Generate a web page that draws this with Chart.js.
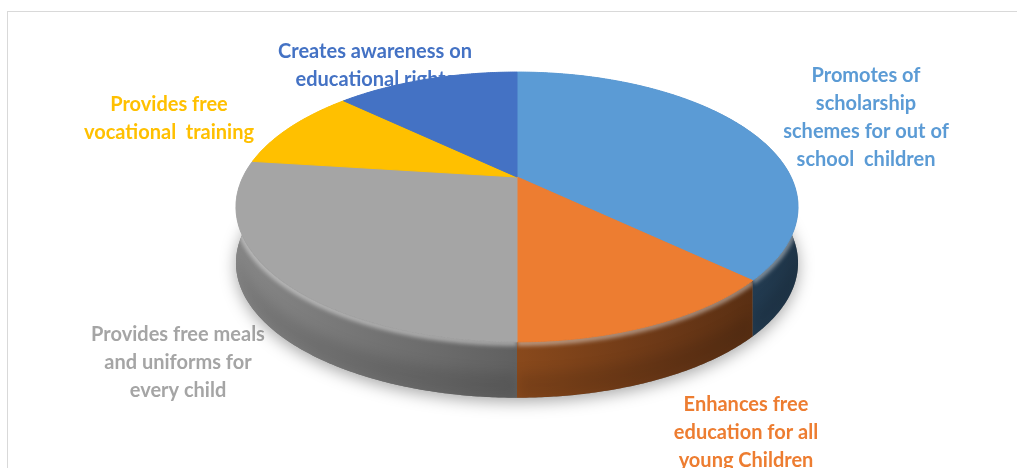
<!DOCTYPE html>
<html>
<head>
<meta charset="utf-8">
<script src="https://cdn.jsdelivr.net/npm/chart.js@4.4.1/dist/chart.umd.min.js"></script>
<style>
  html, body { margin: 0; padding: 0; background: #ffffff; overflow: hidden; }
  #wrap { position: relative; width: 1017px; height: 468px; }
</style>
</head>
<body>
<div id="wrap"><canvas id="c" width="1017" height="468"></canvas></div>
<script>
// Survey answers: what the programme does for school children
const categories = [
  'Promotes of scholarship schemes for out of school children',
  'Enhances free education for all young Children',
  'Provides free meals and uniforms for every child',
  'Provides free vocational training',
  'Creates awareness on educational rights'
];
const shares = [37, 13, 27, 10, 13];
const sliceColors = ['#5B9BD5', '#ED7D31', '#A5A5A5', '#FFC000', '#4472C4'];
const labelLines = [
  ['Promotes of', 'scholarship', 'schemes for out of', 'school  children'],
  ['Enhances free', 'education for all', 'young Children'],
  ['Provides free meals', 'and uniforms for', 'every child'],
  ['Provides free', 'vocational  training'],
  ['Creates awareness on', 'educational rights']
];

// Tilted, extruded disc, sized as multiples of the radius Chart.js lays out
const VIEW = { rx: 1.171, ry: 0.548, lift: 0.2436, depth: 0.239, persp: 0.222 };
// Data label placement (centre of first line) and styling
const LABEL_POS = [
  { x: 866, y: 76 }, { x: 746, y: 405 }, { x: 178, y: 335 }, { x: 169, y: 105 }, { x: 375, y: 52 }
];
const LABEL_SIZE = 20;
const LINE_H = 27.7;

function hexToRgb(h) {
  const n = parseInt(h.slice(1), 16);
  return [(n >> 16) & 255, (n >> 8) & 255, n & 255];
}
function shade(rgb, f) {
  const c = rgb.map(v => Math.max(0, Math.min(255, Math.round(v * f))));
  return `rgb(${c[0]},${c[1]},${c[2]})`;
}
// wall brightness: lit from the left, darker towards the right
const wallLight = u => 0.58 - 0.24 * u;

function drawLabels(ctx) {
  ctx.save();
  ctx.textAlign = 'center';
  ctx.textBaseline = 'middle';
  ctx.font = `bold ${LABEL_SIZE}px Lato, "Open Sans", sans-serif`;
  labelLines.forEach((lines, i) => {
    ctx.fillStyle = sliceColors[i];
    lines.forEach((t, j) => ctx.fillText(t, LABEL_POS[i].x, LABEL_POS[i].y + j * LINE_H));
  });
  ctx.restore();
}

const pie3d = {
  id: 'pie3d',
  beforeDraw(chart) {
    const ctx = chart.ctx;
    ctx.save();
    ctx.strokeStyle = '#d9d9d9';
    ctx.lineWidth = 1;
    ctx.beginPath();
    ctx.moveTo(7, 11.5); ctx.lineTo(chart.width, 11.5);
    ctx.moveTo(7.5, 11); ctx.lineTo(7.5, chart.height);
    ctx.stroke();
    ctx.restore();
  },
  beforeDatasetsDraw(chart) {
    const ctx = chart.ctx;
    const arcs = chart.getDatasetMeta(0).data;
    if (!arcs.length) return false;
    const r = arcs[0].outerRadius;
    const cx = arcs[0].x, cy = arcs[0].y - VIEW.lift * r;
    const A = VIEW.rx * r, B = VIEW.ry * r, H = VIEW.depth * r, k = VIEW.persp;
    const proj = (a, f, z) => {
      const u = f * Math.cos(a), v = f * Math.sin(a), d = 1 - k * v;
      return [cx + A * u / d, cy + B * v / d + z];
    };
    const halfW = A / Math.sqrt(1 - k * k);
    const rgbs = sliceColors.map(hexToRgb);
    const deg = Math.PI / 180;

    drawLabels(ctx);

    // soft shadow under the disc
    ctx.save();
    ctx.beginPath();
    for (let i = 0; i <= 360; i++) {
      const p = proj(i * deg, 1, H);
      if (i) ctx.lineTo(p[0], p[1]); else ctx.moveTo(p[0], p[1]);
    }
    ctx.closePath();
    ctx.shadowColor = 'rgba(0,0,0,0.35)';
    ctx.shadowBlur = 16;
    ctx.shadowOffsetY = 4;
    ctx.fillStyle = '#777';
    ctx.fill();
    ctx.restore();

    // outer wall of each slice, farthest slices first
    const order = arcs.map((arc, i) => i)
      .sort((p, q) => Math.sin((arcs[p].startAngle + arcs[p].endAngle) / 2) -
                      Math.sin((arcs[q].startAngle + arcs[q].endAngle) / 2));
    const edge = (s, e, z, path, first) => {
      const n = Math.max(2, Math.ceil(Math.abs(e - s) / (deg / 2)));
      for (let j = 0; j <= n; j++) {
        const p = proj(s + (e - s) * j / n, 1, z);
        if (first && j === 0) path.moveTo(p[0], p[1]); else path.lineTo(p[0], p[1]);
      }
    };
    order.forEach(i => {
      const s = arcs[i].startAngle, e = arcs[i].endAngle, rgb = rgbs[i];
      const wall = new Path2D();
      edge(s, e, 0, wall, true);
      edge(e, s, H, wall, false);
      wall.closePath();
      const g = ctx.createLinearGradient(cx - halfW, 0, cx + halfW, 0);
      for (let t = 0; t <= 1.0001; t += 0.125) g.addColorStop(Math.min(1, t), shade(rgb, wallLight(2 * t - 1)));
      ctx.save();
      ctx.fillStyle = g;
      ctx.fill(wall);
      // darker towards the base of the wall
      const bottom = new Path2D();
      edge(s, e, H * 0.55, bottom, true);
      edge(e, s, H + 1, bottom, false);
      bottom.closePath();
      ctx.clip(wall);
      ctx.filter = 'blur(6px)';
      ctx.fillStyle = 'rgba(0,0,0,0.10)';
      ctx.fill(bottom);
      // rounded rim highlight along the upper edge
      const rim = new Path2D();
      edge(s, e, 1, rim, true);
      ctx.filter = 'blur(2px)';
      ctx.strokeStyle = 'rgba(255,255,255,0.45)';
      ctx.lineWidth = 6;
      ctx.stroke(rim);
      ctx.restore();
    });

    // top faces
    ctx.save();
    ctx.lineWidth = 1;
    arcs.forEach((arc, i) => {
      const s = arc.startAngle, e = arc.endAngle;
      const c = proj(0, 0, 0);
      const face = new Path2D();
      face.moveTo(c[0], c[1]);
      edge(s, e, 0, face, false);
      face.closePath();
      ctx.fillStyle = sliceColors[i];
      ctx.strokeStyle = sliceColors[i];
      ctx.fill(face);
      ctx.stroke(face);
    });
    ctx.restore();
    return false;
  }
};

new Chart(document.getElementById('c'), {
  type: 'pie',
  data: {
    labels: categories,
    datasets: [{ data: shares, backgroundColor: sliceColors, borderWidth: 0 }]
  },
  options: {
    responsive: false,
    animation: false,
    devicePixelRatio: 1,
    layout: { padding: { left: 17 } },
    plugins: { legend: { display: false }, tooltip: { enabled: false } }
  },
  plugins: [pie3d]
});
</script>
</body>
</html>
